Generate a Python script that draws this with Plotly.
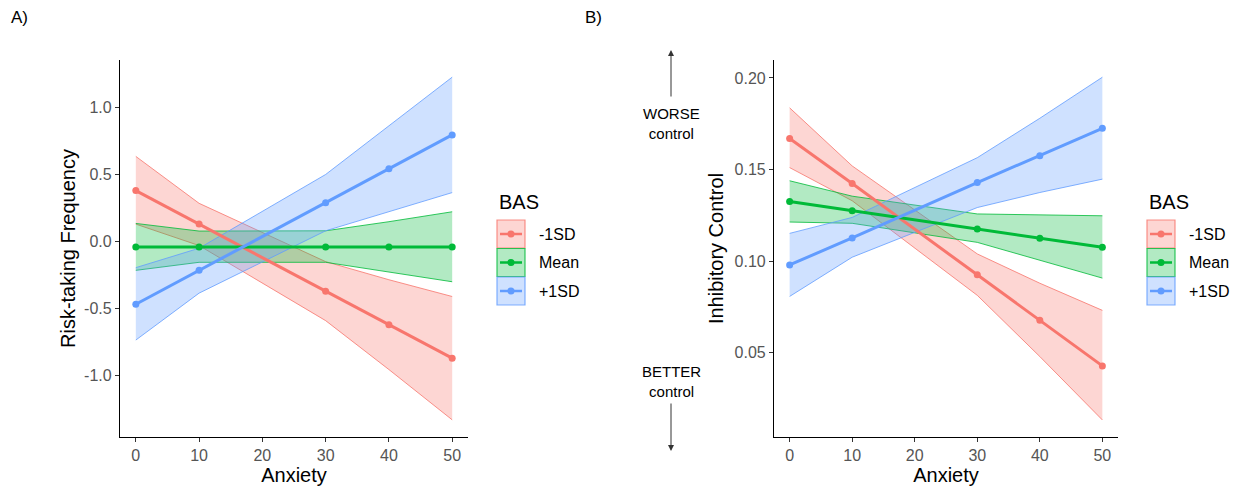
import plotly.graph_objects as go

# ---------------- data ----------------
anxiety = [0, 10, 30, 40, 50]
series_names = ["-1SD", "Mean", "+1SD"]

# Panel A: Risk-taking Frequency
a_mean = {
    "-1SD": [0.38, 0.13, -0.37, -0.62, -0.87],
    "Mean": [-0.04, -0.04, -0.04, -0.04, -0.04],
    "+1SD": [-0.468, -0.215, 0.29, 0.543, 0.795],
}
a_lo = {
    "-1SD": [0.13, -0.03, -0.59, -0.955, -1.33],
    "Mean": [-0.215, -0.155, -0.155, -0.225, -0.30],
    "+1SD": [-0.735, -0.385, 0.08, 0.22, 0.365],
}
a_hi = {
    "-1SD": [0.635, 0.285, -0.15, -0.285, -0.41],
    "Mean": [0.135, 0.078, 0.08, 0.148, 0.222],
    "+1SD": [-0.195, -0.05, 0.50, 0.86, 1.226],
}

# Panel B: Inhibitory Control
b_mean = {
    "-1SD": [0.167, 0.1424, 0.0926, 0.0678, 0.0429],
    "Mean": [0.1326, 0.1276, 0.1176, 0.1126, 0.1076],
    "+1SD": [0.098, 0.1127, 0.1429, 0.1576, 0.1725],
}
b_lo = {
    "-1SD": [0.1511, 0.133, 0.0814, 0.048, 0.0134],
    "Mean": [0.1214, 0.1207, 0.1103, 0.1005, 0.0908],
    "+1SD": [0.0808, 0.1022, 0.1293, 0.1375, 0.1448],
}
b_hi = {
    "-1SD": [0.1837, 0.152, 0.104, 0.088, 0.0732],
    "Mean": [0.1439, 0.1355, 0.1258, 0.1252, 0.1248],
    "+1SD": [0.1152, 0.1239, 0.1565, 0.178, 0.2004],
}

x_ticks = [0, 10, 20, 30, 40, 50]
a_yticks = [-1.0, -0.5, 0.0, 0.5, 1.0]
a_yticktext = ["-1.0", "-0.5", "0.0", "0.5", "1.0"]
b_yticks = [0.05, 0.10, 0.15, 0.20]
b_yticktext = ["0.05", "0.10", "0.15", "0.20"]

# ---------------- styles ----------------
W, H = 1236, 488
FONT = "Arial, Liberation Sans, sans-serif"
rgb = {"-1SD": (248, 118, 109), "Mean": (0, 186, 56), "+1SD": (97, 156, 255)}


def col(name, a=1.0):
    r, g, b = rgb[name]
    return f"rgba({r},{g},{b},{a})"


def px(x):
    return x / W


def py(y):
    return 1 - y / H


fig = go.Figure()

panels = [
    ("x", "y", a_mean, a_lo, a_hi),
    ("x2", "y2", b_mean, b_lo, b_hi),
]

# ribbons first
for xa, ya, mean, lo, hi in panels:
    for s in series_names:
        fig.add_trace(go.Scatter(x=anxiety, y=lo[s], mode="lines",
                                 line=dict(color=col(s, 0.8), width=1),
                                 xaxis=xa, yaxis=ya, showlegend=False, hoverinfo="skip"))
        fig.add_trace(go.Scatter(x=anxiety, y=hi[s], mode="lines", fill="tonexty",
                                 fillcolor=col(s, 0.3),
                                 line=dict(color=col(s, 0.8), width=1),
                                 xaxis=xa, yaxis=ya, showlegend=False, hoverinfo="skip"))
# lines on top
for xa, ya, mean, lo, hi in panels:
    for s in series_names:
        fig.add_trace(go.Scatter(x=anxiety, y=mean[s], mode="lines+markers",
                                 line=dict(color=col(s), width=3),
                                 marker=dict(color=col(s), size=7),
                                 xaxis=xa, yaxis=ya, showlegend=False, name=s))

axis_common = dict(showline=True, linecolor="black", linewidth=1.2, ticks="outside",
                   ticklen=4, tickwidth=1.1, tickcolor="#333333", showgrid=False,
                   zeroline=False, tickfont=dict(family=FONT, size=16, color="#555555"))

ydom = [py(437), py(60)]
fig.update_layout(
    width=W, height=H, margin=dict(l=0, r=0, t=0, b=0),
    paper_bgcolor="white", plot_bgcolor="white", showlegend=False,
    font=dict(family=FONT),
    xaxis=dict(domain=[px(120), px(468)], range=[-2.5, 52.5], anchor="y",
               tickvals=x_ticks, title=dict(text="Anxiety", font=dict(size=20, color="black"), standoff=0),
               **axis_common),
    yaxis=dict(domain=ydom, range=[-1.458, 1.354], anchor="x",
               tickvals=a_yticks, ticktext=a_yticktext,
               title=dict(text="Risk-taking Frequency", font=dict(size=20, color="black"), standoff=3),
               **axis_common),
    xaxis2=dict(domain=[px(774), px(1118)], range=[-2.5, 52.5], anchor="y2",
                tickvals=x_ticks, title=dict(text="Anxiety", font=dict(size=20, color="black"), standoff=0),
                **axis_common),
    yaxis2=dict(domain=ydom, range=[0.0041, 0.2098], anchor="x2",
                tickvals=b_yticks, ticktext=b_yticktext,
                title=dict(text="Inhibitory Control", font=dict(size=20, color="black"), standoff=5),
                **axis_common),
)

shapes = []
annotations = []

# custom ggplot-style legends
legend_pos = [(497, 537), (1147, 1187)]  # key left x, text left x
title_y = 202
key_tops = [220, 248.5, 277]
key_w, key_h = 28, 28
for kx, tx in legend_pos:
    annotations.append(dict(text="BAS", x=px(kx), y=py(title_y), xref="paper", yref="paper",
                            xanchor="left", yanchor="middle", showarrow=False,
                            font=dict(family=FONT, size=20, color="black")))
    for s, top in zip(series_names, key_tops):
        shapes.append(dict(type="rect", xref="paper", yref="paper",
                           x0=px(kx), x1=px(kx + key_w), y0=py(top + key_h), y1=py(top),
                           fillcolor=col(s, 0.3), line=dict(color=col(s, 0.8), width=1.2)))
        cy = top + key_h / 2
        shapes.append(dict(type="line", xref="paper", yref="paper",
                           x0=px(kx + 3), x1=px(kx + key_w - 3), y0=py(cy), y1=py(cy),
                           line=dict(color=col(s), width=2.5)))
        shapes.append(dict(type="circle", xref="paper", yref="paper",
                           x0=px(kx + key_w / 2 - 3.5), x1=px(kx + key_w / 2 + 3.5),
                           y0=py(cy + 3.5), y1=py(cy - 3.5),
                           fillcolor=col(s), line=dict(color=col(s), width=0)))
        annotations.append(dict(text=s, x=px(tx), y=py(cy), xref="paper", yref="paper",
                                xanchor="left", yanchor="middle", showarrow=False,
                                font=dict(family=FONT, size=16, color="black")))

# panel labels
annotations.append(dict(text="A)", x=px(9), y=py(18), xref="paper", yref="paper",
                        xanchor="left", yanchor="middle", showarrow=False,
                        font=dict(family=FONT, size=17, color="black")))
annotations.append(dict(text="B)", x=px(583), y=py(18), xref="paper", yref="paper",
                        xanchor="left", yanchor="middle", showarrow=False,
                        font=dict(family=FONT, size=17, color="black")))

# direction arrows and texts
arrow_x = 671
annotations.append(dict(text="", x=px(arrow_x), y=py(50), xref="paper", yref="paper",
                        ax=0, ay=48, showarrow=True, arrowhead=2, arrowsize=1.2,
                        arrowwidth=1, arrowcolor="#333333"))
annotations.append(dict(text="", x=px(arrow_x), y=py(451), xref="paper", yref="paper",
                        ax=0, ay=-49, showarrow=True, arrowhead=2, arrowsize=1.2,
                        arrowwidth=1, arrowcolor="#333333"))
annotations.append(dict(text="WORSE<br>control", x=px(arrow_x), y=py(123.5), xref="paper", yref="paper",
                        xanchor="center", yanchor="middle", showarrow=False,
                        font=dict(family=FONT, size=15, color="black")))
annotations.append(dict(text="BETTER<br>control", x=px(arrow_x), y=py(381.5), xref="paper", yref="paper",
                        xanchor="center", yanchor="middle", showarrow=False,
                        font=dict(family=FONT, size=15, color="black")))

fig.update_layout(shapes=shapes, annotations=annotations)
fig.write_html("out.html", config={"displayModeBar": False},
               post_script="document.body.style.margin='0px';document.body.style.overflow='hidden';")
